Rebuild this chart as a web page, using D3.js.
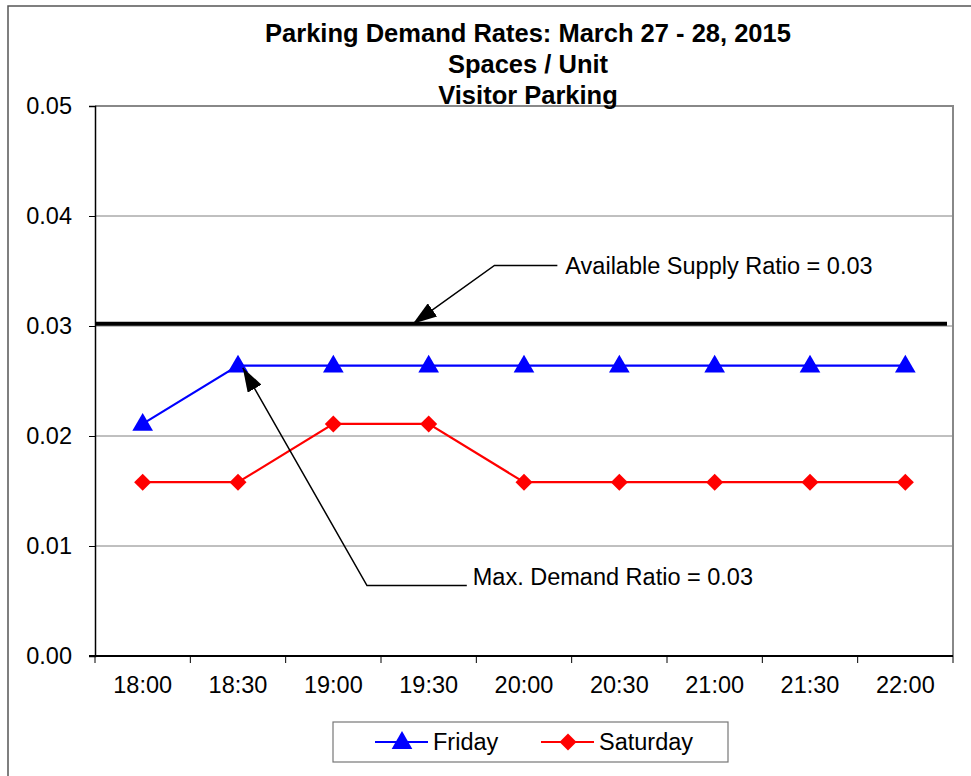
<!DOCTYPE html>
<html>
<head>
<meta charset="utf-8">
<script src="https://cdn.jsdelivr.net/npm/d3@7"></script>
<style>
  body { margin: 0; background: #fff; }
  text { font-family: Arial, "Liberation Sans", sans-serif; }
</style>
</head>
<body>
<script>
// chart data
const times = ['18:00', '18:30', '19:00', '19:30', '20:00', '20:30', '21:00', '21:30', '22:00'];
const friday = [0.0211, 0.0264, 0.0264, 0.0264, 0.0264, 0.0264, 0.0264, 0.0264, 0.0264];
const saturday = [0.0158, 0.0158, 0.0211, 0.0211, 0.0158, 0.0158, 0.0158, 0.0158, 0.0158];
const supplyRatio = 0.0302;
const yTicks = [0, 0.01, 0.02, 0.03, 0.04, 0.05];
const titleLines = ['Parking Demand Rates: March 27 - 28, 2015', 'Spaces / Unit', 'Visitor Parking'];

// callouts: [category index, value] points, arrow tip first
const supplyNote = { text: 'Available Supply Ratio = 0.03', pts: [[2.835, 0.0302], [3.69, 0.0355], [4.35, 0.0355]] };
const maxNote = { text: 'Max. Demand Ratio = 0.03', pts: [[1.05, 0.0262], [2.353, 0.0064], [3.40, 0.0064]] };

const width = 971;
const height = 776;
const margin = { top: 106, right: 18, bottom: 120, left: 95 };

const svg = d3.select('body')
  .append('svg')
  .attr('width', width)
  .attr('height', height);

// outer chart frame (runs off the right / bottom)
svg.append('rect')
  .attr('x', 8).attr('y', 6)
  .attr('width', 1000).attr('height', 1000)
  .attr('fill', 'none')
  .attr('stroke', '#555')
  .attr('stroke-width', 1.5);

const x = d3.scaleBand()
  .domain(times)
  .range([margin.left, width - margin.right]);

const xc = d => x(d) + x.bandwidth() / 2;

// fractional category position, used for the callouts
const xi = d3.scaleLinear()
  .domain([0, times.length - 1])
  .range([xc(times[0]), xc(times[times.length - 1])]);

const y = d3.scaleLinear()
  .domain([0, 0.05])
  .range([height - margin.bottom, margin.top]);

const x0 = margin.left, x1 = width - margin.right;

// gridlines
svg.selectAll('.grid')
  .data(yTicks.slice(1, -1))
  .enter()
  .append('line')
  .attr('x1', x0).attr('x2', x1)
  .attr('y1', d => y(d)).attr('y2', d => y(d))
  .attr('stroke', '#808080')
  .attr('stroke-width', 1);

// top and right plot border
svg.append('path')
  .attr('d', `M${x0},${y(0.05)}H${x1}V${y(0)}`)
  .attr('fill', 'none')
  .attr('stroke', '#888')
  .attr('stroke-width', 2);

// y axis
const yAxis = svg.append('g')
  .attr('transform', `translate(${x0},0)`)
  .call(d3.axisLeft(y).tickValues(yTicks).tickFormat(d3.format('.2f')).tickSize(6).tickPadding(17));
yAxis.select('.domain').attr('stroke', '#000').attr('stroke-width', 1.5);
yAxis.selectAll('.tick line').attr('stroke', '#000');
yAxis.selectAll('text').attr('font-size', '23.5px').attr('fill', '#000')
  .style('font-family', 'Arial, "Liberation Sans", sans-serif');

// x axis labels at band centres
const xAxis = svg.append('g')
  .attr('transform', `translate(0,${y(0)})`)
  .call(d3.axisBottom(x).tickSize(0).tickPadding(20));
xAxis.select('.domain').remove();
xAxis.selectAll('text').attr('font-size', '23.5px').attr('fill', '#000')
  .style('font-family', 'Arial, "Liberation Sans", sans-serif');

// x tick marks at band edges
const edges = times.map(d => x(d)).concat([x1]);
svg.selectAll('.xtick')
  .data(edges)
  .enter()
  .append('line')
  .attr('x1', d => d).attr('x2', d => d)
  .attr('y1', y(0)).attr('y2', y(0) + 7)
  .attr('stroke', '#000')
  .attr('stroke-width', 1);

svg.append('line')
  .attr('x1', x0 - 6).attr('x2', x1)
  .attr('y1', y(0)).attr('y2', y(0))
  .attr('stroke', '#000')
  .attr('stroke-width', 2);

// supply ratio line
svg.append('line')
  .attr('x1', x0).attr('x2', x1 - 6)
  .attr('y1', y(supplyRatio)).attr('y2', y(supplyRatio))
  .attr('stroke', '#000')
  .attr('stroke-width', 4);

const line = d3.line()
  .x((d, i) => xc(times[i]))
  .y(d => y(d));

const triangle = d3.symbol().type(d3.symbolTriangle).size(185);
const diamond = d3.symbol().type(d3.symbolSquare).size(145);

const series = [
  { name: 'Friday', values: friday, color: '#0000ff', shape: 'tri' },
  { name: 'Saturday', values: saturday, color: '#ff0000', shape: 'dia' }
];

function marker(sel, s) {
  if (s.shape === 'tri') {
    sel.attr('d', triangle()).attr('transform', d => d.t + ' translate(0,1)');
  } else {
    sel.attr('d', diamond()).attr('transform', d => d.t + ' rotate(45)');
  }
  sel.attr('fill', s.color);
}

series.slice().reverse().forEach(s => {
  svg.append('path')
    .datum(s.values)
    .attr('d', line)
    .attr('fill', 'none')
    .attr('stroke', s.color)
    .attr('stroke-width', 2.2);

  svg.selectAll('.m-' + s.name)
    .data(s.values.map((v, i) => ({ t: `translate(${xc(times[i])},${y(v)})` })))
    .enter()
    .append('path')
    .call(marker, s);
});

// callouts
svg.append('defs').append('marker')
  .attr('id', 'arrow')
  .attr('viewBox', '0 0 24 16')
  .attr('refX', 24).attr('refY', 8)
  .attr('markerWidth', 24).attr('markerHeight', 16)
  .attr('markerUnits', 'userSpaceOnUse')
  .attr('orient', 'auto-start-reverse')
  .append('path')
  .attr('d', 'M0,0L24,8L0,16Z')
  .attr('fill', '#000');

[supplyNote, maxNote].forEach((n, k) => {
  const pts = n.pts.map(p => [xi(p[0]), y(p[1])]);
  svg.append('path')
    .attr('d', d3.line()(pts))
    .attr('fill', 'none')
    .attr('stroke', '#000')
    .attr('stroke-width', 1.5)
    .attr('marker-start', 'url(#arrow)');
  const last = pts[pts.length - 1];
  svg.append('text')
    .attr('x', last[0] + (k === 0 ? 8 : 6))
    .attr('y', k === 0 ? last[1] : last[1] - 1)
    .attr('dy', k === 0 ? '0.35em' : 0)
    .attr('font-size', '23.5px')
    .text(n.text);
});

// title
svg.selectAll('.title')
  .data(titleLines)
  .enter()
  .append('text')
  .attr('x', 528)
  .attr('y', (d, i) => 42 + i * 31)
  .attr('text-anchor', 'middle')
  .attr('font-size', '25.5px')
  .attr('font-weight', 'bold')
  .text(d => d);

// legend
const legend = svg.append('g');
legend.append('rect')
  .attr('x', 333).attr('y', 722)
  .attr('width', 395).attr('height', 40)
  .attr('fill', '#fff')
  .attr('stroke', '#777')
  .attr('stroke-width', 1.2);

const legX = [375, 541];
series.forEach((s, i) => {
  const g = legend.append('g').attr('transform', `translate(${legX[i]},742)`);
  g.append('line')
    .attr('x1', 0).attr('x2', 53)
    .attr('stroke', s.color)
    .attr('stroke-width', 2.2);
  g.append('path')
    .datum({ t: 'translate(27,0)' })
    .call(marker, s);
  g.append('text')
    .attr('x', 58)
    .attr('dy', '0.35em')
    .attr('font-size', '23.5px')
    .text(s.name);
});
</script>
</body>
</html>
